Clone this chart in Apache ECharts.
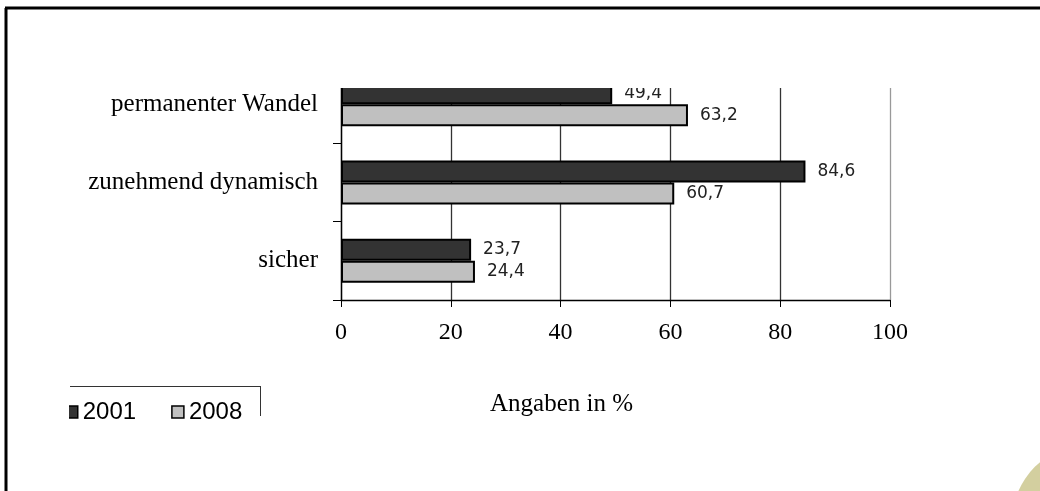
<!DOCTYPE html>
<html lang="de">
<head>
    <meta charset="UTF-8">
    <title>Angaben in %</title>
    <script src="https://cdn.jsdelivr.net/npm/echarts@6/dist/echarts.min.js"></script>
    <style>
        * {
            margin: 0;
            padding: 0;
        }

        html,
        body {
            width: 100%;
            height: 100%;
            background: #fff;
        }
    </style>
</head>
<body>
    <div id="main" style="width: 1040px;height:491px;"></div>
</body>
<script>
    // Daten
    var categories = ['permanenter Wandel', 'zunehmend dynamisch', 'sicher'];
    var werte2001 = [49.4, 84.6, 23.7];
    var werte2008 = [63.2, 60.7, 24.4];
    var xTicks = [0, 20, 40, 60, 80, 100];

    var serif = '"Liberation Serif", "DejaVu Serif", serif';

    var myChart = echarts.init(document.getElementById('main'));

    function labelFmt(p) {
        return String(p.value).replace('.', ',');
    }

    myChart.setOption({
        animation: false,
        grid: {
            left: 341,
            right: 150,
            top: 65,
            bottom: 191
        },
        legend: {
            data: [
                { name: '2001', itemStyle: { color: '#333333', borderColor: '#000', borderWidth: 1.5 } },
                { name: '2008', itemStyle: { color: '#c0c0c0', borderColor: '#000', borderWidth: 1.5 } }
            ],
            left: 60,
            top: 395,
            itemWidth: 12,
            itemHeight: 12,
            itemGap: 35,
            icon: 'rect',
            textStyle: {
                fontFamily: '"Liberation Sans", Arial, sans-serif',
                fontSize: 24,
                color: '#000'
            }
        },
        xAxis: {
            type: 'value',
            min: xTicks[0],
            max: xTicks[xTicks.length - 1],
            interval: 20,
            axisLine: { show: true, lineStyle: { color: '#000', width: 1.3 } },
            axisTick: { show: true, length: 7, lineStyle: { color: '#000' } },
            axisLabel: {
                margin: 21,
                fontFamily: serif,
                fontSize: 24,
                color: '#000'
            },
            splitLine: {
                show: true,
                lineStyle: {
                    color: ['#000', '#333', '#333', '#333', '#333', '#999'],
                    width: 1.3
                }
            }
        },
        yAxis: {
            type: 'category',
            inverse: true,
            data: categories,
            axisLine: { show: true, lineStyle: { color: '#000', width: 1.3 } },
            axisTick: { show: true, length: 8, lineStyle: { color: '#000' } },
            axisLabel: {
                margin: 23,
                fontFamily: serif,
                fontSize: 25,
                color: '#000'
            }
        },
        series: [
            {
                name: '2001',
                type: 'bar',
                data: werte2001,
                barWidth: 22,
                barGap: 0,
                itemStyle: { color: '#333333', borderColor: '#000', borderWidth: 2 },
                label: {
                    show: true,
                    position: 'right',
                    distance: 12,
                    formatter: labelFmt,
                    fontFamily: '"DejaVu Sans", sans-serif',
                    fontSize: 17,
                    color: '#222'
                }
            },
            {
                name: '2008',
                type: 'bar',
                data: werte2008,
                barWidth: 22,
                barGap: 0,
                itemStyle: { color: '#c0c0c0', borderColor: '#000', borderWidth: 2 },
                label: {
                    show: true,
                    position: 'right',
                    distance: 12,
                    formatter: labelFmt,
                    fontFamily: '"DejaVu Sans", sans-serif',
                    fontSize: 17,
                    color: '#222'
                }
            }
        ],
        graphic: [
            // oberer Rand des Diagramms abgeschnitten
            { type: 'rect', z: 100, shape: { x: 8, y: 10, width: 1032, height: 78 }, style: { fill: '#fff' } },
            // Achsentitel
            {
                type: 'text', z: 100, left: 490, top: 392,
                style: { text: 'Angaben in %', font: '25px "Liberation Serif", serif', fill: '#000' }
            },
            // Legende links abgeschnitten
            { type: 'rect', z: 100, shape: { x: 8, y: 388, width: 61, height: 40 }, style: { fill: '#fff' } },
            { type: 'line', z: 101, shape: { x1: 70, y1: 386.5, x2: 260.5, y2: 386.5 }, style: { stroke: '#333', lineWidth: 1 } },
            { type: 'line', z: 101, shape: { x1: 260.5, y1: 386, x2: 260.5, y2: 416 }, style: { stroke: '#333', lineWidth: 1 } },
            // Rahmen
            { type: 'line', z: 102, shape: { x1: 5, y1: 8, x2: 1040, y2: 8 }, style: { stroke: '#000', lineWidth: 3 } },
            { type: 'line', z: 102, shape: { x1: 6, y1: 8, x2: 6, y2: 491 }, style: { stroke: '#000', lineWidth: 3 } },
            // Kreis unten rechts
            { type: 'circle', z: 1, shape: { cx: 1090, cy: 522, r: 78 }, style: { fill: '#d3cf9f' } }
        ]
    });
</script>
</html>
